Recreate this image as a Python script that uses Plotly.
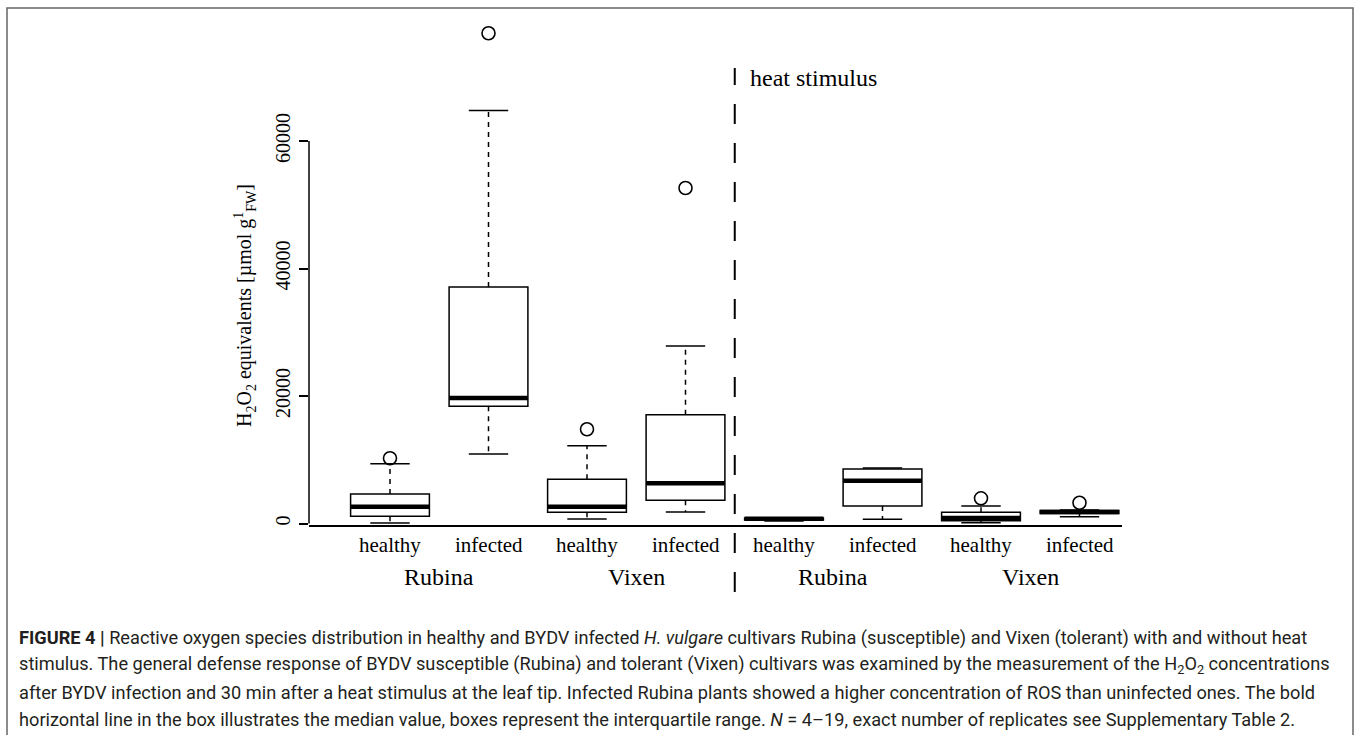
import plotly.graph_objects as go

# ---------------- data ----------------
positions = [1, 2, 3, 4, 5, 6, 7, 8]
conditions = ["healthy", "infected", "healthy", "infected",
              "healthy", "infected", "healthy", "infected"]
cultivars = ["Rubina", "Vixen", "Rubina", "Vixen"]
cultivar_pos = [1.5, 3.5, 5.5, 7.5]

lower_whisker = [80, 10900, 700, 1800, 400, 660, 130, 1070]
q1 = [1130, 18380, 1760, 3640, 550, 2750, 440, 1550]
median = [2640, 19700, 2640, 6300, 750, 6700, 850, 1800]
q3 = [4630, 37100, 6930, 17070, 850, 8550, 1760, 2050]
upper_whisker = [9380, 64800, 12200, 27840, 900, 8700, 2750, 2100]

outlier_pos = [1, 2, 3, 4, 7, 8]
outlier_val = [10230, 76900, 14780, 52630, 3950, 3260]

y_ticks = [0, 20000, 40000, 60000]
heat_split = 4.5

caption_lines = [
    "<b>FIGURE 4 |</b> Reactive oxygen species distribution in healthy and BYDV infected <i>H. vulgare</i> cultivars Rubina (susceptible) and Vixen (tolerant) with and without heat",
    "stimulus. The general defense response of BYDV susceptible (Rubina) and tolerant (Vixen) cultivars was examined by the measurement of the H<sub>2</sub>O<sub>2</sub> concentrations",
    "after BYDV infection and 30 min after a heat stimulus at the leaf tip. Infected Rubina plants showed a higher concentration of ROS than uninfected ones. The bold",
    "horizontal line in the box illustrates the median value, boxes represent the interquartile range. <i>N</i> = 4–19, exact number of replicates see Supplementary Table 2.",
]

# ---------------- layout geometry (pixels) ----------------
W, H = 1358, 735
L, R, T, B = 309, 1122, 20, 525
SLOT = 98.5
X0_PX = 390


def px(x):
    return (x - L) / (R - L)


def py(y):
    return (B - y) / (B - T)


def pos_at(xpix):
    return 1 + (xpix - X0_PX) / SLOT


SERIF = "Liberation Serif, Times New Roman, serif"
SANS = "Roboto, Liberation Sans, sans-serif"

fig = go.Figure()

# boxes
fig.add_trace(go.Box(
    x=positions, q1=q1, median=median, q3=q3,
    lowerfence=q1, upperfence=q3, width=0.8, whiskerwidth=0,
    fillcolor="white", line=dict(color="black", width=1.5),
    boxpoints=False, showlegend=False, hoverinfo="skip",
))

# whiskers (dashed)
wx, wy = [], []
for p, lo, a, b, hi in zip(positions, lower_whisker, q1, q3, upper_whisker):
    wx += [p, p, None, p, p, None]
    wy += [b, hi, None, a, lo, None]
fig.add_trace(go.Scatter(x=wx, y=wy, mode="lines",
                         line=dict(color="black", width=1.5, dash="5px,5px"),
                         showlegend=False, hoverinfo="skip"))

# whisker caps
cx, cy = [], []
for p, lo, hi in zip(positions, lower_whisker, upper_whisker):
    cx += [p - 0.2, p + 0.2, None, p - 0.2, p + 0.2, None]
    cy += [hi, hi, None, lo, lo, None]
fig.add_trace(go.Scatter(x=cx, y=cy, mode="lines",
                         line=dict(color="black", width=1.5),
                         showlegend=False, hoverinfo="skip"))

# medians (bold)
mx, my = [], []
for p, m in zip(positions, median):
    mx += [p - 0.4, p + 0.4, None]
    my += [m, m, None]
fig.add_trace(go.Scatter(x=mx, y=my, mode="lines",
                         line=dict(color="black", width=4.5),
                         showlegend=False, hoverinfo="skip"))

# outliers
fig.add_trace(go.Scatter(x=outlier_pos, y=outlier_val, mode="markers",
                         marker=dict(symbol="circle-open", size=13, color="black",
                                     line=dict(width=1.6, color="black")),
                         showlegend=False, hoverinfo="skip", cliponaxis=False))

shapes = [
    # y axis line from first to last tick
    dict(type="line", xref="paper", yref="y", x0=0, x1=0, y0=y_ticks[0], y1=y_ticks[-1],
         line=dict(color="black", width=1.5)),
    # heat stimulus separator
    dict(type="line", xref="x", yref="paper", x0=heat_split, x1=heat_split,
         y0=py(592), y1=py(68), line=dict(color="black", width=2, dash="20px,19px")),
    # figure frame
    dict(type="rect", xref="paper", yref="paper", x0=px(7), x1=px(1353), y0=py(745), y1=py(8),
         line=dict(color="#666666", width=1.5), fillcolor="rgba(0,0,0,0)", layer="below"),
]

annotations = []
for p, c in zip(positions, conditions):
    annotations.append(dict(x=p, y=py(545), xref="x", yref="paper", text=c, showarrow=False,
                            font=dict(family=SERIF, size=21, color="black"),
                            xanchor="center", yanchor="middle"))
for p, c in zip(cultivar_pos, cultivars):
    annotations.append(dict(x=p, y=py(577), xref="x", yref="paper", text=c, showarrow=False,
                            font=dict(family=SERIF, size=24, color="black"),
                            xanchor="center", yanchor="middle"))
annotations.append(dict(x=px(748), y=py(78), xref="paper", yref="paper", text="heat stimulus",
                        showarrow=False, font=dict(family=SERIF, size=24, color="black"),
                        xanchor="left", yanchor="middle"))
annotations.append(dict(x=px(245), y=py(306), xref="paper", yref="paper",
                        text="H<sub>2</sub>O<sub>2</sub> equivalents [µmol g<sup>1</sup><sub>FW</sub>]",
                        textangle=-90, showarrow=False,
                        font=dict(family=SERIF, size=20, color="black"),
                        xanchor="center", yanchor="middle"))
for i, line in enumerate(caption_lines):
    annotations.append(dict(x=px(17), y=py(638 + 27 * i), xref="paper", yref="paper",
                            text=line, showarrow=False, align="left",
                            font=dict(family=SANS, size=18.2, color="#231f20"),
                            xanchor="left", yanchor="middle"))

fig.update_layout(
    width=W, height=H,
    margin=dict(l=L, r=W - R, t=T, b=H - B, pad=0),
    paper_bgcolor="white", plot_bgcolor="white",
    xaxis=dict(range=[pos_at(L), pos_at(R)], showline=True, linecolor="black", linewidth=1.5,
               ticks="", showticklabels=False, showgrid=False, zeroline=False, fixedrange=True),
    yaxis=dict(range=[(523.5 - B) * 156.86, (523.5 - T) * 156.86], tickvals=y_ticks,
               ticktext=[str(v) for v in y_ticks], ticks="outside", ticklen=9, tickwidth=1.5,
               tickcolor="black", tickangle=-90, ticklabelstandoff=1,
               tickfont=dict(family=SERIF, size=20, color="black"),
               showgrid=False, zeroline=False, showline=False, fixedrange=True),
    shapes=shapes, annotations=annotations,
)

fig.write_html("out.html", config={"displayModeBar": False})
